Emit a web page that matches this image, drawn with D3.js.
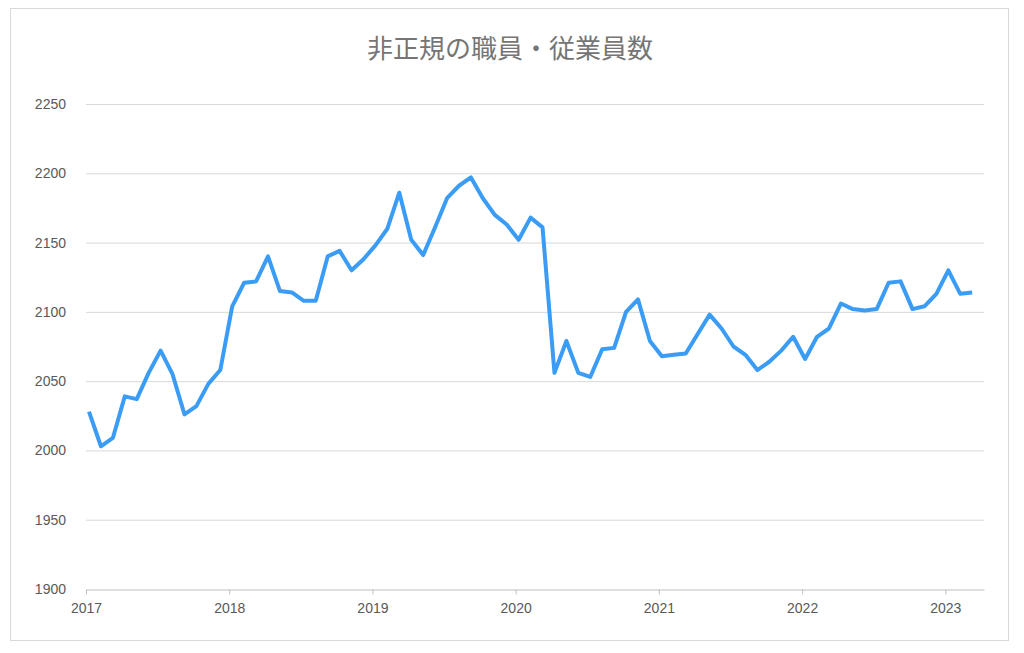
<!DOCTYPE html>
<html>
<head>
<meta charset="utf-8">
<script src="https://cdn.jsdelivr.net/npm/d3@7"></script>
<style>
  body { margin: 0; background: #fff; }
  text { font-family: "Liberation Sans", Arial, sans-serif; }
</style>
</head>
<body>
<div id="chart"></div>
<script>
// monthly values, Jan 2017 .. Mar 2023
const startYear = 2017;
const values = [
  2028, 2003, 2009, 2039, 2037, 2056, 2072, 2055, 2026, 2032, 2048, 2058,
  2104, 2121, 2122, 2140, 2115, 2114, 2108, 2108, 2140, 2144, 2130, 2138,
  2148, 2160, 2186, 2152, 2141, 2161, 2182, 2191, 2197, 2182, 2170, 2163,
  2152, 2168, 2161, 2056, 2079, 2056, 2053, 2073, 2074, 2100, 2109, 2079,
  2068, 2069, 2070, 2084, 2098, 2088, 2075, 2069, 2058, 2064, 2072, 2082,
  2066, 2082, 2088, 2106, 2102, 2101, 2102, 2121, 2122, 2102, 2104, 2113,
  2130, 2113, 2114
];
const yearTicks = [2017, 2018, 2019, 2020, 2021, 2022, 2023];
const yTicks = [1900, 1950, 2000, 2050, 2100, 2150, 2200, 2250];
const title = '非正規の職員・従業員数';

let width = 1024, height = 653;
let margin = { top: 104, right: 40, bottom: 64, left: 86 };

let svg = d3.select('#chart').append('svg')
    .attr('width', width)
    .attr('height', height);

// outer frame
svg.append('rect')
    .attr('x', 10.5).attr('y', 8.5)
    .attr('width', 998).attr('height', 632)
    .attr('fill', '#fff')
    .attr('stroke', '#d9d9d9');

svg.append('text')
    .attr('x', 510).attr('y', 58)
    .attr('text-anchor', 'middle')
    .style('font-family', '"Noto Sans CJK JP", sans-serif')
    .style('font-size', '26px')
    .attr('fill', '#757575')
    .text(title);

// x in fractional years
let x = d3.scaleLinear().domain([2017, 2023.27]).range([margin.left, width - margin.right]);
let y = d3.scaleLinear().domain([1900, 2250]).range([height - margin.bottom, margin.top]);

// gridlines
svg.append('g')
  .selectAll('line')
  .data(yTicks.slice(1))
  .join('line')
    .attr('x1', margin.left).attr('x2', width - margin.right)
    .attr('y1', d => y(d) + 0.5).attr('y2', d => y(d) + 0.5)
    .attr('stroke', '#d9d9d9');

// y labels
svg.append('g')
  .selectAll('text')
  .data(yTicks)
  .join('text')
    .attr('x', 66).attr('y', d => y(d) + 5)
    .attr('text-anchor', 'end')
    .style('font-size', '14px')
    .attr('fill', '#595959')
    .text(d => d);

// x axis
let xAxis = svg.append('g')
    .attr('transform', 'translate(0,' + (y(1900) + 0.5) + ')')
    .call(d3.axisBottom(x).tickValues(yearTicks).tickFormat(d3.format('d')).tickSize(5).tickSizeOuter(0));
xAxis.select('.domain').attr('stroke', '#bfbfbf');
xAxis.selectAll('.tick line').attr('stroke', '#bfbfbf');
xAxis.selectAll('.tick text')
    .style('font-size', '14px')
    .style('font-family', '"Liberation Sans", Arial, sans-serif')
    .attr('fill', '#595959')
    .attr('dy', '1.1em');

svg.append('path')
    .datum(values)
    .attr('fill', 'none')
    .attr('stroke', '#3b9cf5')
    .attr('stroke-width', 4)
    .attr('stroke-linejoin', 'round')
    .attr('d', d3.line()
        .x((d, i) => x(startYear + (i + 0.25) / 12))
        .y(d => y(d)));
</script>
</body>
</html>
